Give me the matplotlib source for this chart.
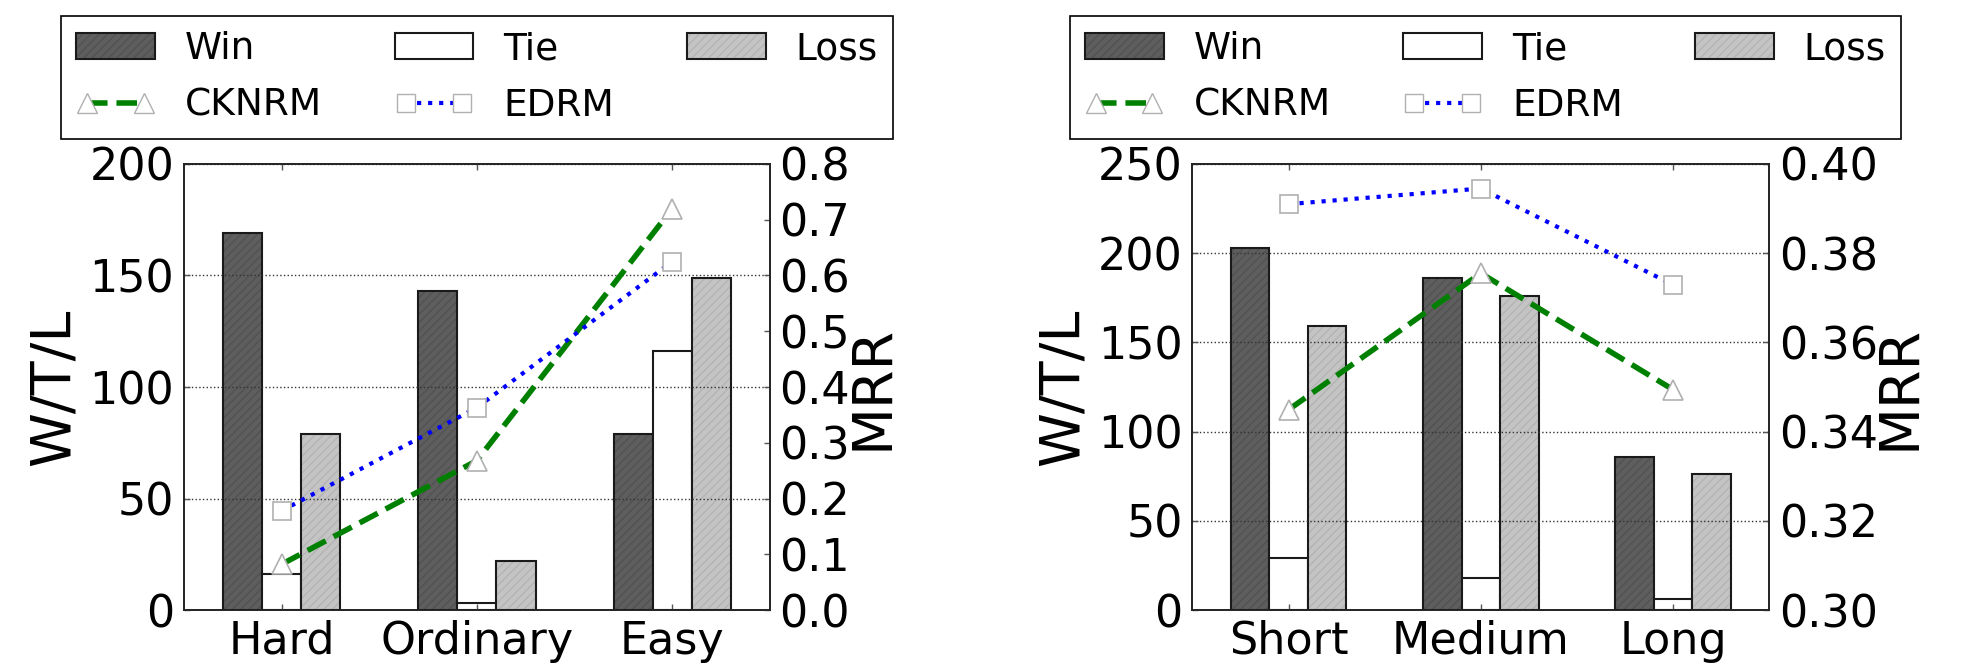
import numpy as np
import matplotlib
matplotlib.use('Agg')
import matplotlib.pyplot as plt
from matplotlib.lines import Line2D
from matplotlib.patches import Patch

# left panel: query difficulty
diff_cats = ['Hard', 'Ordinary', 'Easy']
diff_win = [169, 143, 79]
diff_tie = [16, 3, 116]
diff_loss = [79, 22, 149]
diff_cknrm = [0.082, 0.268, 0.720]
diff_edrm = [0.178, 0.363, 0.625]

# right panel: query length
len_cats = ['Short', 'Medium', 'Long']
len_win = [203, 186, 86]
len_tie = [29, 18, 6]
len_loss = [159, 176, 76]
len_cknrm = [0.3449, 0.3755, 0.3494]
len_edrm = [0.3910, 0.3945, 0.3729]

WIN_FACE, WIN_HATCH = '#5e5e5e', '#525252'
LOSS_FACE, LOSS_HATCH = '#c4c4c4', '#b4b4b4'
EDGE = '#1a1a1a'

plt.rcParams['font.family'] = 'DejaVu Sans'
plt.rcParams['hatch.linewidth'] = 1.0


def draw_panel(ax, cats, win, tie, loss, cknrm, edrm, ylim, ylim2, yticks2, fmt):
    x = np.arange(len(cats))
    w = 0.2
    # hatch pass then outline pass so hatch stays faint
    ax.bar(x - w, win, w, color=WIN_FACE, edgecolor=WIN_HATCH, hatch='////', linewidth=0)
    ax.bar(x - w, win, w, fill=False, edgecolor=EDGE, linewidth=1.5)
    ax.bar(x, tie, w, color='white', edgecolor=EDGE, linewidth=1.5)
    ax.bar(x + w, loss, w, color=LOSS_FACE, edgecolor=LOSS_HATCH, hatch='////', linewidth=0)
    ax.bar(x + w, loss, w, fill=False, edgecolor=EDGE, linewidth=1.5)

    ax.set_xlim(-0.5, len(cats) - 0.5)
    ax.set_ylim(*ylim)
    ax.set_xticks(x)
    ax.set_xticklabels(cats, fontsize=32)
    ax.tick_params(axis='y', labelsize=32)
    ax.tick_params(direction='in', length=4, width=1, color='#555555', pad=7,
                   top=True, right=False)
    ax.yaxis.grid(True, linestyle=':', color='#333333', linewidth=1)
    ax.set_axisbelow(False)
    ax.set_ylabel('W/T/L', fontsize=40, labelpad=6)

    ax2 = ax.twinx()
    ax2.plot(x, cknrm, '--', color='green', linewidth=4, marker='^', markersize=14,
             markerfacecolor='white', markeredgecolor='#b0b0b0', markeredgewidth=1.2)
    ax2.plot(x, edrm, ':', color='blue', linewidth=3, marker='s', markersize=13,
             markerfacecolor='white', markeredgecolor='#b0b0b0', markeredgewidth=1.2)
    ax2.set_ylim(*ylim2)
    ax2.set_yticks(yticks2)
    ax2.set_yticklabels([fmt.format(v) for v in yticks2], fontsize=32)
    ax2.tick_params(direction='in', length=4, width=1, color='#555555', pad=7)
    ax2.set_ylabel('MRR', fontsize=40, labelpad=-4)
    for a in (ax, ax2):
        for s in a.spines.values():
            s.set_linewidth(1.2)
            s.set_color('#222222')
    return ax2


fig = plt.figure(figsize=(19.65, 6.68), dpi=100)
ax_l = fig.add_axes([0.0936, 0.0868, 0.2982, 0.6677])
ax_r = fig.add_axes([0.6068, 0.0868, 0.2936, 0.6677])

draw_panel(ax_l, diff_cats, diff_win, diff_tie, diff_loss, diff_cknrm, diff_edrm,
           (0, 200), (0.0, 0.8), np.round(np.arange(0, 0.81, 0.1), 2), '{:.1f}')
draw_panel(ax_r, len_cats, len_win, len_tie, len_loss, len_cknrm, len_edrm,
           (0, 250), (0.30, 0.40), np.round(np.arange(0.30, 0.401, 0.02), 2), '{:.2f}')

win_h = (Patch(facecolor=WIN_FACE, edgecolor=WIN_HATCH, hatch='////', linewidth=0),
         Patch(fill=False, edgecolor=EDGE, linewidth=1.5))
loss_h = (Patch(facecolor=LOSS_FACE, edgecolor=LOSS_HATCH, hatch='////', linewidth=0),
          Patch(fill=False, edgecolor=EDGE, linewidth=1.5))
handles = [
    win_h,
    Line2D([], [], linestyle='--', color='green', linewidth=4, marker='^', markersize=14,
           markerfacecolor='white', markeredgecolor='#b0b0b0'),
    Patch(facecolor='white', edgecolor=EDGE, linewidth=1.5),
    Line2D([], [], linestyle=':', color='blue', linewidth=3, marker='s', markersize=13,
           markerfacecolor='white', markeredgecolor='#b0b0b0'),
    loss_h,
]
labels = ['Win', 'CKNRM', 'Tie', 'EDRM', 'Loss']

top = 1 - 16 / 668
for x0, x1 in [(61, 893), (1070, 1901)]:
    leg = fig.legend(handles, labels, ncol=3, mode='expand', loc='upper left',
                     bbox_to_anchor=(x0 / 1965, top - 0.01, (x1 - x0) / 1965, 0.01),
                     borderaxespad=0, fontsize=27, handlelength=2.1, handletextpad=0.8,
                     labelspacing=0.55, borderpad=0.4, fancybox=False, framealpha=1,
                     numpoints=2)
    leg.get_frame().set_edgecolor('black')
    leg.get_frame().set_linewidth(1.2)

fig.savefig('out.png', dpi=100, facecolor='white')
